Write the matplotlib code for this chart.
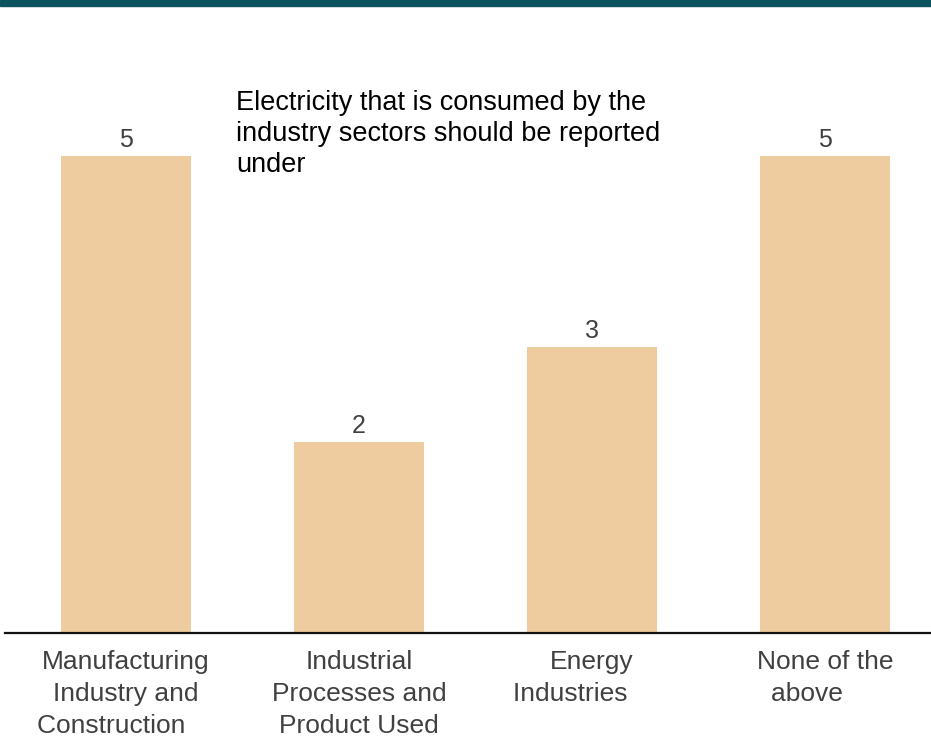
import matplotlib
matplotlib.use("Agg")
import matplotlib.pyplot as plt
from matplotlib.patches import Rectangle

plt.rcParams["font.family"] = ["Liberation Sans", "DejaVu Sans"]

# --------------------------------------------------------------------------
# Data
# --------------------------------------------------------------------------
categories = [
    "Manufacturing\nIndustry and\nConstruction    ",
    "Industrial\nProcesses and\nProduct Used",
    "Energy\nIndustries      ",
    "None of the\nabove     ",
]
responses = [5, 2, 3, 5]
question = "Electricity that is consumed by the\nindustry sectors should be reported\nunder"

BAR_COLOR = "#EECC9F"
BAND_COLOR = "#0C5360"
TEXT_GRAY = "#404040"

fig = plt.figure(figsize=(9.31, 7.44), dpi=100)
ax = fig.add_axes([5 / 931, 111 / 744, 926 / 931, 572 / 744])

x = range(len(categories))
bars = ax.bar(x, responses, width=0.558, color=BAR_COLOR)
ax.bar_label(bars, labels=[str(v) for v in responses], padding=3,
             fontsize=18, color=TEXT_GRAY)

ax.set_xlim(-0.519, 3.455)
ax.set_ylim(0, 6)
ax.set_xticks(list(x))
ax.set_xticklabels(categories, fontsize=19, color=TEXT_GRAY, linespacing=1.43)
ax.tick_params(axis="x", length=0, pad=12)
ax.set_yticks([])

for side in ("top", "left", "right"):
    ax.spines[side].set_visible(False)
ax.spines["bottom"].set_linewidth(1.6)
ax.spines["bottom"].set_color("#111111")

# question text over the chart
fig.text(236 / 931, 1 - 90 / 744, question, ha="left", va="top",
         fontsize=19.5, color="black", linespacing=1.25)

# header band
fig.patches.append(Rectangle((0, 1 - 6 / 744), 1, 6 / 744, transform=fig.transFigure,
                             color=BAND_COLOR, zorder=5))

fig.savefig("out.png", dpi=100)
